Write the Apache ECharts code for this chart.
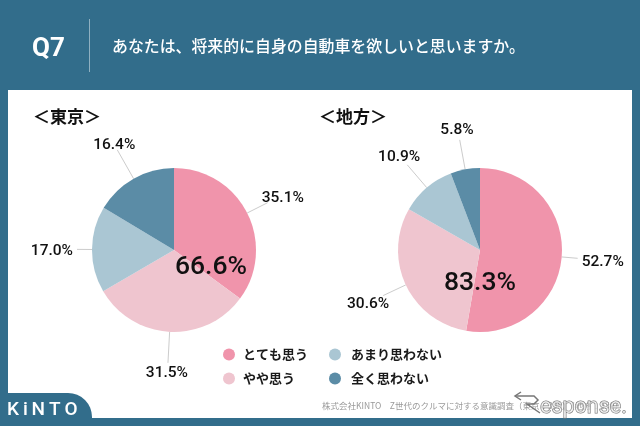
<!DOCTYPE html>
<html>
<head>
<meta charset="utf-8">
<style>
html, body { margin: 0; padding: 0; background: #326d8b; }
#main { width: 640px; height: 426px; }
</style>
<script src="https://cdn.jsdelivr.net/npm/echarts@6/dist/echarts.min.js"></script>
</head>
<body>
<div id="main"></div>
<script>
var categories = ['とても思う', 'やや思う', 'あまり思わない', '全く思わない'];
var tokyoValues = [35.1, 31.5, 17.0, 16.4];
var chihoValues = [52.7, 30.6, 10.9, 5.8];
var tokyoTotal = '66.6%';
var chihoTotal = '83.3%';
var colors = ['#f094ab', '#efc5cf', '#aac6d3', '#5b8ca6'];

// leader line length and label nudge per slice, as the original has them
var tokyoLines = [23, 31, 15, 33];
var chihoLines = [16, 25, 30, 30];
var tokyoNudge = [[-11, -5], [25, 10], [1, 2], [23, -5]];
var chihoNudge = [[-1, 4], [11, 9], [18, -8], [19, -10]];

var font = '"Noto Sans CJK JP", sans-serif';
var numFont = 'Roboto, "Liberation Sans", sans-serif';

function pieSeries(name, values, center, lines, nudge) {
    return {
        name: name,
        type: 'pie',
        center: center,
        radius: [0, 82],
        startAngle: 90,
        clockwise: true,
        silent: true,
        animation: false,
        data: categories.map(function (c, i) {
            return {
                name: c,
                value: values[i],
                itemStyle: { color: colors[i] },
                label: { formatter: values[i].toFixed(1) + '%' },
                labelLine: { length: lines[i] }
            };
        }),
        label: {
            color: '#111',
            fontFamily: numFont,
            fontWeight: 500,
            fontSize: 15.5
        },
        labelLine: {
            show: true,
            length: 15,
            length2: 0,
            lineStyle: { color: '#ccc', width: 1 }
        },
        labelLayout: function (params) {
            return { dx: nudge[params.dataIndex][0], dy: nudge[params.dataIndex][1] };
        }
    };
}

function legendAt(left, names, gap) {
    return {
        left: left,
        top: 343,
        orient: 'vertical',
        itemGap: 11,
        itemWidth: 12,
        itemHeight: 12,
        icon: 'circle',
        selectedMode: false,
        data: names,
        textStyle: { fontFamily: font, fontSize: 13, fontWeight: 'bold', color: '#1a1a1a', padding: [0, 0, 0, gap] }
    };
}

function bigLabel(text, x, y) {
    return {
        text: text,
        left: x,
        top: y,
        textStyle: { fontFamily: numFont, fontSize: 26.5, fontWeight: 500, color: '#111' }
    };
}

var option = {
    backgroundColor: '#326d8b',
    animation: false,
    title: [
        { text: 'Q7', left: 27, top: 31, textStyle: { fontFamily: numFont, fontSize: 26, fontWeight: 'bold', color: '#fff' } },
        { text: 'あなたは、将来的に自身の自動車を欲しいと思いますか。', left: 107, top: 33, textStyle: { fontFamily: font, fontSize: 15.9, fontWeight: 500, color: '#fff' } },
        { text: '＜東京＞', left: 28, top: 103, textStyle: { fontFamily: font, fontSize: 17, fontWeight: 'bold', color: '#111' } },
        { text: '＜地方＞', left: 314, top: 103, textStyle: { fontFamily: font, fontSize: 17, fontWeight: 'bold', color: '#111' } },
        bigLabel(tokyoTotal, 170, 249),
        bigLabel(chihoTotal, 439, 265)
    ],
    legend: [
        legendAt(218, [categories[0], categories[1]], 3),
        legendAt(324, [categories[2], categories[3]], 5)
    ],
    series: [
        pieSeries('東京', tokyoValues, [174, 250], tokyoLines, tokyoNudge),
        pieSeries('地方', chihoValues, [480, 250], chihoLines, chihoNudge)
    ],
    graphic: [
        // white panel, header divider, logo tab and footer text
        { type: 'rect', z: -10, shape: { x: 8, y: 90, width: 624, height: 328 }, style: { fill: '#fff' } },
        { type: 'rect', z: -5, shape: { x: 89, y: 19, width: 1, height: 53 }, style: { fill: '#8fb0c1' } },
        { type: 'rect', z: -5, shape: { x: 0, y: 393, width: 92, height: 33, r: [0, 24, 0, 0] }, style: { fill: '#326d8b' } },
        { type: 'text', z: 5, x: 7, y: 401, style: { text: 'K\u2009i\u2009N\u2009T\u2009O', fill: '#fff', font: '500 19px ' + numFont } },
        { type: 'text', z: 5, x: 322, y: 402, style: { text: '株式会社KINTO　Z世代のクルマに対する意識調査（東京：330）（地方：330）', fill: '#999', font: '8.5px ' + font } },
        // Response watermark
        { type: 'polyline', z: 6, shape: { points: [[521, 392], [515, 396], [521, 400]] }, style: { stroke: '#777', lineWidth: 1.5, fill: null } },
        { type: 'polyline', z: 6, shape: { points: [[515, 396], [534, 396], [538, 400], [534, 404], [527, 404], [540, 413]] }, style: { stroke: '#777', lineWidth: 1.5, fill: null } },
        { type: 'text', z: 6, x: 540, y: 397, style: { text: 'esponse.', fill: 'rgba(255,255,255,0.6)', stroke: '#777', lineWidth: 1, font: '21.5px ' + numFont } }
    ]
};

var myChart = echarts.init(document.getElementById('main'));
myChart.setOption(option);
</script>
</body>
</html>
